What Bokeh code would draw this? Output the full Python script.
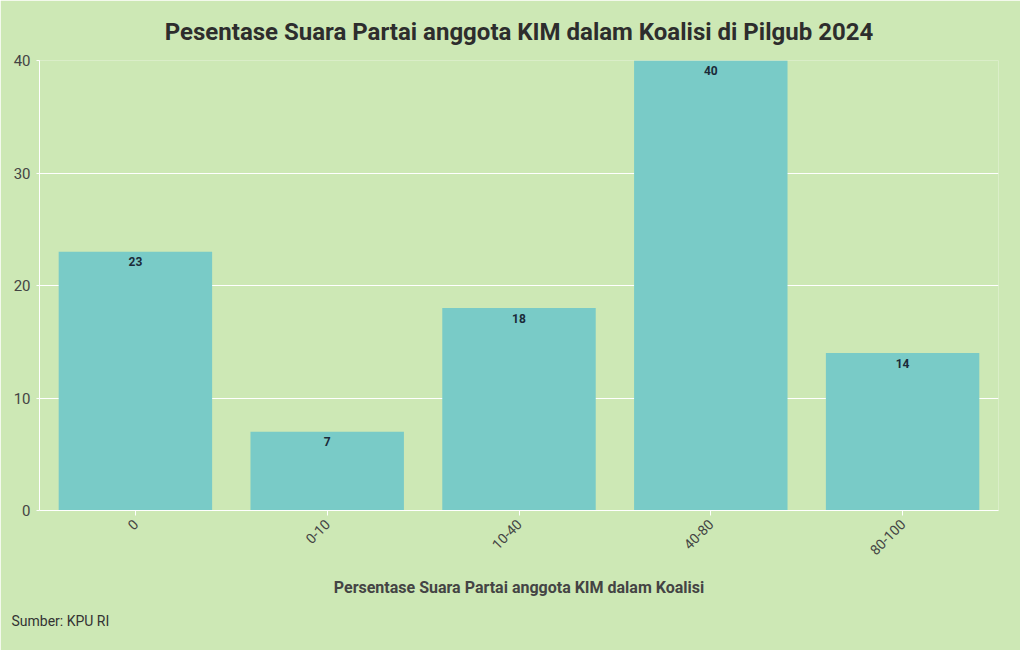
import math
from bokeh.plotting import figure
from bokeh.models import ColumnDataSource, Range1d, FactorRange, Title
from bokeh.core.properties import value
from bokeh.embed import file_html
from bokeh.resources import INLINE

categories = ["0", "0-10", "10-40", "40-80", "80-100"]
counts = [23, 7, 18, 40, 14]
y_ticks = [0, 10, 20, 30, 40]

BG = "#cde8b5"
BAR = "#79cbc7"
FONT = "Roboto"

src = ColumnDataSource(dict(cat=categories, val=counts, lab=[str(v) for v in counts]))

p = figure(frame_width=959, frame_height=450, x_range=FactorRange(*categories, range_padding=0),
           y_range=Range1d(0, 40), output_backend="svg", toolbar_location=None,
           title="Pesentase Suara Partai anggota KIM dalam Koalisi di Pilgub 2024",
           min_border_left=39, min_border_right=22, min_border_top=59, min_border_bottom=141)

p.title.align = "center"
p.title.text_font = FONT
p.title.text_font_style = "bold"
p.title.text_font_size = "24px"
p.title.text_color = "#2d2d2d"
p.title.offset = -8
p.title.standoff = 30

p.background_fill_color = BG
p.border_fill_color = BG
p.outline_line_color = None

p.vbar(x="cat", top="val", width=0.8, source=src, fill_color=BAR, line_color=None)
p.text(x="cat", y="val", text="lab", source=src, text_align="center", text_baseline="middle",
       y_offset=10, text_font=value(FONT), text_font_style="bold", text_font_size="12px",
       text_color="#1b2a38")

p.xgrid.grid_line_color = None
p.ygrid.grid_line_color = "white"
p.ygrid.grid_line_width = 1
p.yaxis.ticker = y_ticks

for ax in (p.xaxis[0], p.yaxis[0]):
    ax.axis_line_color = "white"
    ax.major_tick_line_color = "white"
    ax.minor_tick_line_color = None
    ax.major_label_text_font = FONT
    ax.major_label_text_color = "#444444"

p.yaxis.major_tick_out = 3
p.yaxis.major_tick_in = 0
p.yaxis.major_label_text_font_size = "15px"
p.yaxis.major_label_standoff = 6
p.xaxis.major_tick_out = 5
p.xaxis.major_tick_in = 0
p.xaxis.major_label_orientation = math.pi / 4
p.xaxis.major_label_text_font_size = "14px"
p.xaxis.major_label_standoff = 6
p.xaxis.axis_label = "Persentase Suara Partai anggota KIM dalam Koalisi"
p.xaxis.axis_label_text_font = FONT
p.xaxis.axis_label_text_font_style = "bold"
p.xaxis.axis_label_text_font_size = "16px"
p.xaxis.axis_label_text_color = "#444444"
p.xaxis.axis_label_standoff = 15

p.add_layout(Title(text="Sumber: KPU RI", align="left", text_font=FONT,
                   text_font_style="normal", text_font_size="14px", text_color="#333333",
                   offset=-28, standoff=22), "below")

open("out.html", "w").write(file_html(p, INLINE))
